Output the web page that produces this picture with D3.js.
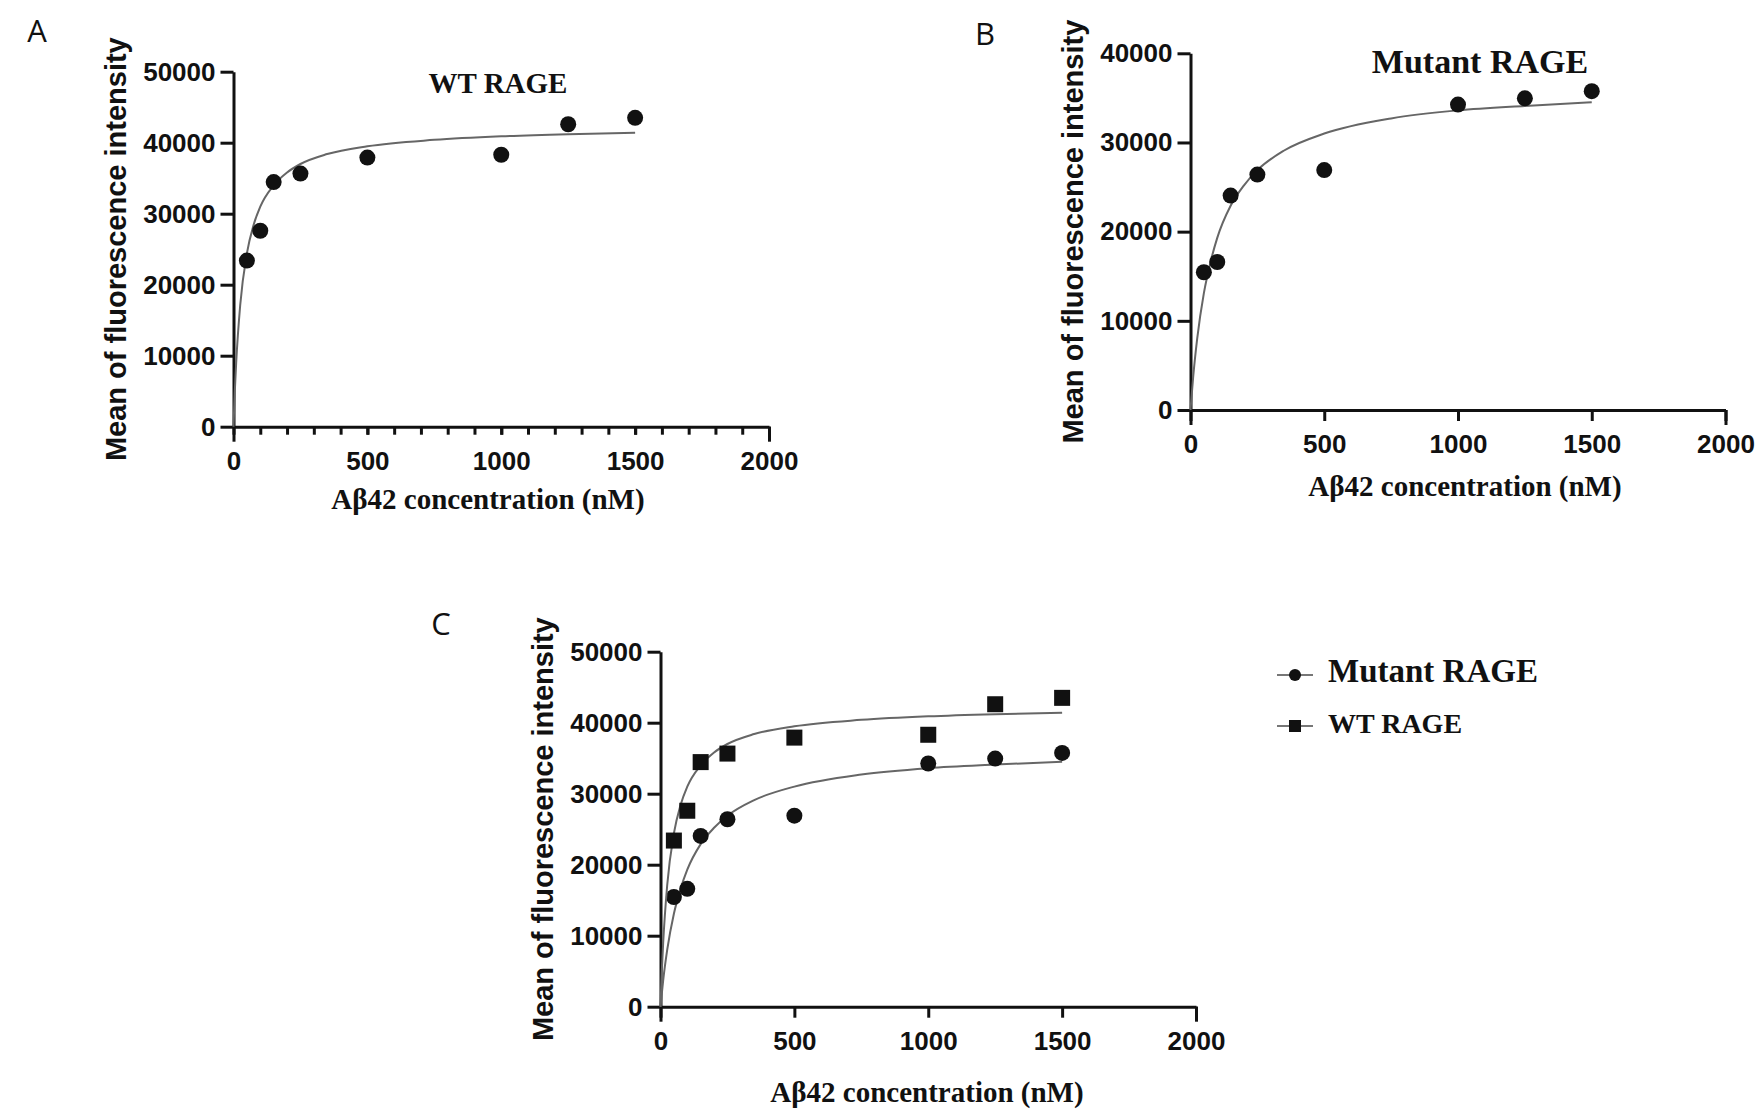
<!DOCTYPE html>
<html>
<head>
<meta charset="utf-8">
<script src="https://cdn.jsdelivr.net/npm/d3@7"></script>
<style>
    body { margin: 0; background: #fff; }
    .tick text { font-family: "Liberation Sans", Arial, sans-serif; font-weight: bold; font-size: 26px; fill: #111; }
    .axis path, .axis line { stroke: #111; stroke-width: 3; }
    .ytitle { font-family: "Liberation Sans", Arial, sans-serif; font-weight: bold; font-size: 29px; fill: #111; }
    .xtitle, .note { font-family: "Liberation Serif", "Times New Roman", serif; font-weight: bold; fill: #111; }
    .letter { font-family: "Open Sans", sans-serif; font-size: 31px; fill: #111; }
    .fit { fill: none; stroke: #666; stroke-width: 2; }
</style>
</head>
<body>
<svg id="chart" width="1760" height="1112"></svg>
<script>
// measured points
const concentrations = [50, 100, 150, 250, 500, 1000, 1250, 1500];
const wtValues = [23400, 27600, 34450, 35650, 37900, 38300, 42600, 43500];
const mutantValues = [15450, 16600, 24050, 26400, 26900, 34250, 34950, 35750];

// fitted curves
const fitX = [0, 5, 10, 25, 50, 75, 100, 150, 200, 250, 350, 500, 750, 1000, 1250, 1500];
const wtFit = [0, 5100, 9000, 17100, 24400, 28400, 31000, 34000, 35800, 37000, 38400, 39500, 40400, 40900, 41200, 41400];
const mutantFit = [0, 1900, 3700, 8000, 13100, 16600, 19300, 22900, 25200, 26900, 29100, 31000, 32700, 33600, 34100, 34500];

const xTicks = [0, 500, 1000, 1500, 2000];
const yTicks50 = [0, 10000, 20000, 30000, 40000, 50000];
const yTicks40 = [0, 10000, 20000, 30000, 40000];

const svg = d3.select("#chart");
svg.append("rect").attr("width", 1760).attr("height", 1112).attr("fill", "#fff");

const panels = [
    {letter: "A", lx: 37, ly: 42, x0: 233.5, x1: 769, y0: 426.7, y1: 71.7, yMax: 50000, yTicks: yTicks50,
        minor: true, series: [{values: wtValues, fit: wtFit, shape: "circle"}],
        titleX: 488, titleY: 509, note: {text: "WT RAGE", x: 498, y: 93, size: 29}},
    {letter: "B", lx: 985, ly: 45, x0: 1190.5, x1: 1725.5, y0: 410, y1: 53.3, yMax: 40000, yTicks: yTicks40,
        minor: false, series: [{values: mutantValues, fit: mutantFit, shape: "circle"}],
        titleX: 1465, titleY: 496, note: {text: "Mutant RAGE", x: 1480, y: 73, size: 34}},
    {letter: "C", lx: 441, ly: 635, x0: 660.5, x1: 1196, y0: 1006.7, y1: 651.7, yMax: 50000, yTicks: yTicks50,
        minor: false, series: [{values: mutantValues, fit: mutantFit, shape: "circle"},
            {values: wtValues, fit: wtFit, shape: "square"}],
        titleX: 927, titleY: 1102, note: null}
];

panels.forEach(drawPanel);

function drawPanel(p) {
    const x = d3.scaleLinear().domain([0, 2000]).range([p.x0, p.x1]);
    const y = d3.scaleLinear().domain([0, p.yMax]).range([p.y0, p.y1]);
    const inner = p.minor ? 8 : 11;

    svg.append("text").attr("class", "letter")
        .attr("x", p.lx).attr("y", p.ly).attr("text-anchor", "middle").text(p.letter);

    // x axis
    const gx = svg.append("g").attr("class", "axis")
        .attr("transform", "translate(0," + p.y0 + ")");
    gx.call(d3.axisBottom(x).tickValues(xTicks).tickSizeInner(inner).tickSizeOuter(0)
        .tickPadding(25 - inner).tickFormat(d3.format("d")));
    if (p.minor) {
        gx.append("g").call(d3.axisBottom(x).tickValues(d3.range(100, 2000, 100))
            .tickSize(8).tickFormat("")).select(".domain").remove();
    }
    gx.append("g").call(d3.axisBottom(x).tickValues([0, 2000]).tickSize(15).tickFormat(""))
        .select(".domain").remove();

    // y axis
    svg.append("g").attr("class", "axis")
        .attr("transform", "translate(" + p.x0 + ",0)")
        .call(d3.axisLeft(y).tickValues(p.yTicks).tickSizeInner(13).tickSizeOuter(0)
            .tickPadding(5).tickFormat(d3.format("d")));

    svg.selectAll(".axis line, .axis path").attr("stroke", "#111").attr("stroke-width", 3);

    svg.append("text").attr("class", "ytitle")
        .attr("transform", "translate(" + (p.x0 - 118) + "," + (p.y0 + p.y1) / 2 + ") rotate(-90)")
        .attr("text-anchor", "middle").attr("dy", "0.35em")
        .text("Mean of fluorescence intensity");

    svg.append("text").attr("class", "xtitle").style("font-size", "29px")
        .attr("x", p.titleX).attr("y", p.titleY).attr("text-anchor", "middle")
        .text("Aβ42 concentration (nM)");

    if (p.note) {
        svg.append("text").attr("class", "note").style("font-size", p.note.size + "px")
            .attr("x", p.note.x).attr("y", p.note.y).attr("text-anchor", "middle")
            .text(p.note.text);
    }

    const line = d3.line()
        .x(function (d, i) { return x(fitX[i]); })
        .y(function (d) { return y(d); })
        .curve(d3.curveMonotoneX);

    p.series.forEach(function (s) {
        svg.append("path").attr("class", "fit").attr("d", line(s.fit));
        const pts = concentrations.map(function (c, i) { return {c: c, v: s.values[i]}; });
        if (s.shape === "circle") {
            svg.append("g").selectAll("circle").data(pts).enter().append("circle")
                .attr("cx", function (d) { return x(d.c); })
                .attr("cy", function (d) { return y(d.v); })
                .attr("r", 8).attr("fill", "#111");
        } else {
            svg.append("g").selectAll("rect").data(pts).enter().append("rect")
                .attr("x", function (d) { return x(d.c) - 8; })
                .attr("y", function (d) { return y(d.v) - 8; })
                .attr("width", 16).attr("height", 16).attr("fill", "#111");
        }
    });
}

// legend of panel C
const legendItems = [
    {label: "Mutant RAGE", shape: "circle", y: 675, size: 33},
    {label: "WT RAGE", shape: "square", y: 726, size: 28}
];
const legend = svg.append("g");
legendItems.forEach(function (item) {
    legend.append("line").attr("x1", 1277).attr("x2", 1313).attr("y1", item.y).attr("y2", item.y)
        .attr("stroke", "#777").attr("stroke-width", 2);
    if (item.shape === "circle") {
        legend.append("circle").attr("cx", 1295).attr("cy", item.y).attr("r", 6).attr("fill", "#111");
    } else {
        legend.append("rect").attr("x", 1289).attr("y", item.y - 6).attr("width", 12).attr("height", 12)
            .attr("fill", "#111");
    }
    legend.append("text").attr("class", "note").style("font-size", item.size + "px")
        .attr("x", 1328).attr("y", item.y + 7).text(item.label);
});
</script>
</body>
</html>
